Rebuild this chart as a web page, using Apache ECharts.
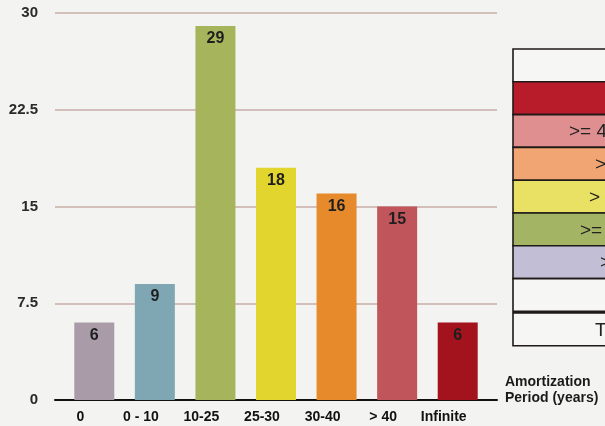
<!DOCTYPE html>
<html>
<head>
<meta charset="utf-8">
<script src="https://cdn.jsdelivr.net/npm/echarts@6/dist/echarts.min.js"></script>
<style>
  html, body { margin: 0; padding: 0; background: #f3f3f1; }
  #chart { width: 605px; height: 426px; }
</style>
</head>
<body>
<div id="chart"></div>
<script>
// Amortization period buckets and their counts
const categories = ['0', '0 - 10', '10-25', '25-30', '30-40', '> 40', 'Infinite'];
const counts = [6, 9, 29, 18, 16, 15, 6];
const barColors = ['#a99ca8', '#7ea6b3', '#a6b55c', '#e2d52e', '#e68a2c', '#c0555b', '#a3131d'];
const yTicks = [0, 7.5, 15, 22.5, 30];

// Colour key rows (top to bottom)
const keyLabels = ['', '', '>= 40', '> 30', '> 25', '>= 10', '> 0', '', 'Total'];
const keyColors = ['#f6f6f4', '#b81b2a', '#df8f8f', '#f0a572', '#e8e164', '#a3b465', '#c2bed6', '#f6f6f4', '#f6f6f4'];

const chart = echarts.init(document.getElementById('chart'), null, { renderer: 'canvas' });

const labelFont = 'Liberation Sans, Arial, sans-serif';

// Key table drawn at the right edge
const keyGraphics = [];
const keyX = 513, keyTop = 49, rowH = 32.8, keyW = 120;
const textX = [0, 0, 569, 595, 589, 580, 600, 0, 595];
keyColors.forEach((c, i) => {
  const y = keyTop + i * rowH + (i === 8 ? 1.5 : 0);
  keyGraphics.push({
    type: 'rect',
    shape: { x: keyX, y: y, width: keyW, height: rowH },
    style: { fill: c, stroke: '#1e1a18', lineWidth: 1.6 }
  });
  if (keyLabels[i]) {
    keyGraphics.push({
      type: 'text',
      x: textX[i], y: y + rowH / 2 + 1,
      style: {
        text: keyLabels[i], fill: '#222',
        font: '19px ' + labelFont, verticalAlign: 'middle', align: 'left'
      }
    });
  }
});
keyGraphics.push({
  type: 'text', x: 505, y: 382,
  style: { text: 'Amortization', fill: '#1a1a1a', font: 'bold 14px ' + labelFont, verticalAlign: 'middle' }
});
keyGraphics.push({
  type: 'text', x: 505, y: 398,
  style: { text: 'Period (years)', fill: '#1a1a1a', font: 'bold 14px ' + labelFont, verticalAlign: 'middle' }
});

chart.setOption({
  backgroundColor: '#f3f3f1',
  animation: false,
  grid: [
    { left: 64, right: 117, top: 13, bottom: 26 },
    { left: 55, right: 108, top: 13, bottom: 26 }
  ],
  xAxis: [
    {
      type: 'category', gridIndex: 0, data: categories,
      axisLine: { show: false }, axisTick: { show: false },
      axisLabel: {
        color: '#111', fontWeight: 'bold', fontSize: 14, fontFamily: labelFont,
        margin: 10, interval: 0, padding: [0, 28, 0, 0]
      }
    },
    {
      type: 'value', gridIndex: 1, min: 0, max: 1,
      axisLine: { show: true, lineStyle: { color: '#111', width: 2 } },
      axisTick: { show: false }, axisLabel: { show: false }, splitLine: { show: false }
    }
  ],
  yAxis: [
    {
      type: 'value', gridIndex: 0, min: 0, max: 30, interval: 7.5,
      axisLine: { show: false }, axisTick: { show: false },
      axisLabel: { show: false }, splitLine: { show: false }
    },
    {
      type: 'value', gridIndex: 1, min: yTicks[0], max: yTicks[yTicks.length - 1], interval: 7.5,
      axisLine: { show: false }, axisTick: { show: false },
      axisLabel: {
        color: '#2a2a2a', fontWeight: 'bold', fontSize: 15, fontFamily: labelFont, margin: 17,
        formatter: v => String(v)
      },
      splitLine: { show: true, lineStyle: { color: '#c9aea6', width: 1.5 } }
    }
  ],
  series: [
    {
      type: 'bar', xAxisIndex: 0, yAxisIndex: 0,
      data: counts.map((v, i) => ({ value: v, itemStyle: { color: barColors[i] } })),
      barWidth: 40,
      z: 3,
      label: {
        show: true, position: 'insideTop', distance: 5,
        color: '#1e1e1e', fontSize: 16, fontWeight: 'bold', fontFamily: labelFont
      }
    }
  ],
  graphic: keyGraphics
});
</script>
</body>
</html>
